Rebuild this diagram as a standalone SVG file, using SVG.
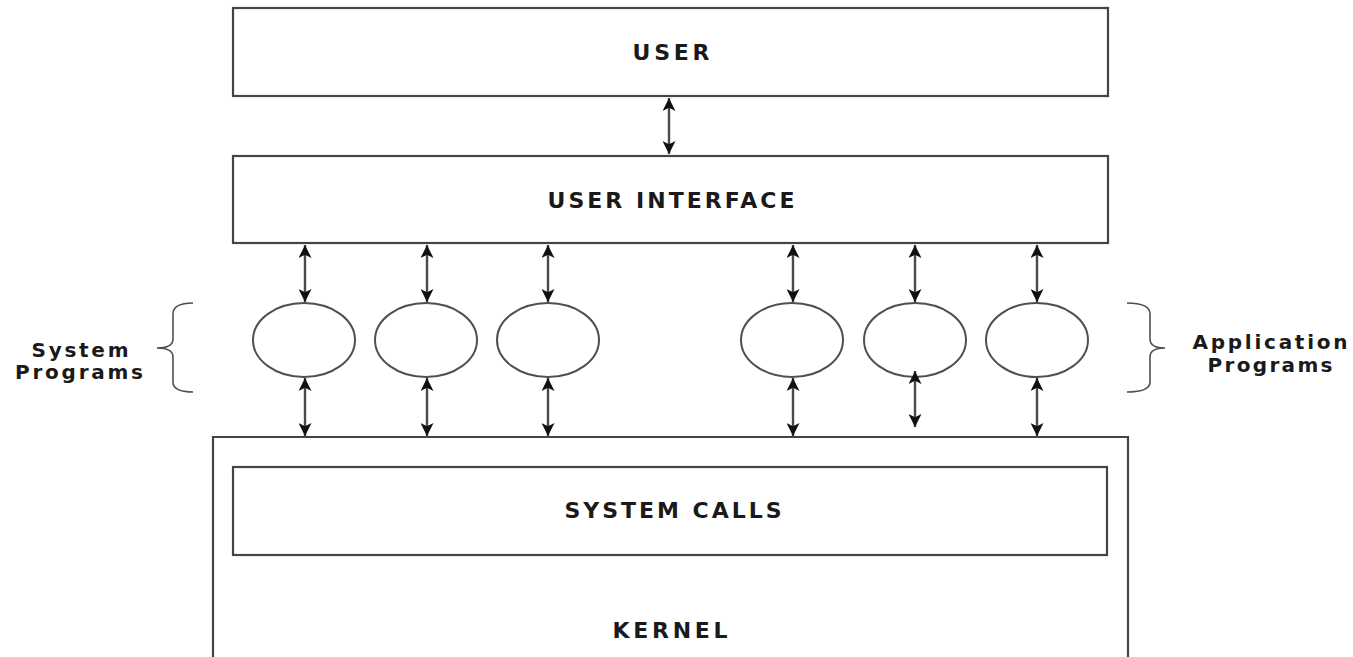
<svg xmlns="http://www.w3.org/2000/svg" width="1353" height="657" viewBox="0 0 1353 657">
  <style>
    .box { fill: #ffffff; stroke: #444444; stroke-width: 2.2; }
    .prog { fill: #ffffff; stroke: #505050; stroke-width: 2; }
    .link { stroke: #4a4a4a; stroke-width: 2.4; fill: none; marker-start: url(#head); marker-end: url(#head); }
    .brace { fill: none; stroke: #505050; stroke-width: 1.6; }
    .lbl { font-family: "DejaVu Sans", "Liberation Sans", sans-serif; font-weight: bold; font-size: 22px; fill: #1a1a1a; text-anchor: middle; }
    .side { font-family: "DejaVu Sans", "Liberation Sans", sans-serif; font-weight: bold; font-size: 20px; fill: #1a1a1a; text-anchor: middle; }
  </style>
  <defs>
    <marker id="head" viewBox="0 0 10 10" refX="10" refY="5" markerWidth="13" markerHeight="13" markerUnits="userSpaceOnUse" orient="auto-start-reverse">
      <path d="M0,0 L10,5 L0,10 L2.5,5 Z" fill="#111111"/>
    </marker>
  </defs>
  <rect width="1353" height="657" fill="#ffffff"/>

  <g id="user">
    <rect class="box" x="233" y="8" width="875" height="88"/>
    <text class="lbl" x="671" y="60" textLength="77" lengthAdjust="spacing">USER</text>
  </g>

  <g id="user-interface">
    <rect class="box" x="233" y="156" width="875" height="87"/>
    <text class="lbl" x="671" y="208" textLength="247" lengthAdjust="spacing">USER INTERFACE</text>
  </g>

  <g id="kernel">
    <path class="box" d="M213,662 V437 H1128 V662"/>
    <text class="lbl" x="670" y="638" textLength="115" lengthAdjust="spacing">KERNEL</text>
  </g>

  <g id="system-calls">
    <rect class="box" x="233" y="467" width="874" height="88"/>
    <text class="lbl" x="673" y="518" textLength="217" lengthAdjust="spacing">SYSTEM CALLS</text>
  </g>

  <g id="system-programs">
    <ellipse class="prog" cx="304" cy="340" rx="51" ry="37"/>
    <ellipse class="prog" cx="426" cy="340" rx="51" ry="37"/>
    <ellipse class="prog" cx="548" cy="340" rx="51" ry="37"/>
    <path class="brace" d="M193,303 Q173,303 173,314 V339 Q173,348 157,348 Q173,348 173,357 V382 Q173,392 193,392"/>
    <text class="side" x="80" y="357" textLength="97" lengthAdjust="spacing">System</text>
    <text class="side" x="79" y="379" textLength="128" lengthAdjust="spacing">Programs</text>
  </g>

  <g id="application-programs">
    <ellipse class="prog" cx="792" cy="340" rx="51" ry="37"/>
    <ellipse class="prog" cx="915" cy="340" rx="51" ry="37"/>
    <ellipse class="prog" cx="1037" cy="340" rx="51" ry="37"/>
    <path class="brace" d="M1127,303 Q1150,303 1150,314 V339 Q1150,348 1165,348 Q1150,348 1150,357 V382 Q1150,392 1127,392"/>
    <text class="side" x="1270" y="349" textLength="155" lengthAdjust="spacing">Application</text>
    <text class="side" x="1270" y="372" textLength="125" lengthAdjust="spacing">Programs</text>
  </g>

  <g id="connectors">
    <line class="link" x1="669" y1="98" x2="669" y2="154"/>

    <line class="link" x1="305" y1="245" x2="305" y2="302"/>
    <line class="link" x1="427" y1="245" x2="427" y2="302"/>
    <line class="link" x1="548" y1="245" x2="548" y2="302"/>
    <line class="link" x1="793" y1="245" x2="793" y2="302"/>
    <line class="link" x1="915" y1="245" x2="915" y2="302"/>
    <line class="link" x1="1037" y1="245" x2="1037" y2="302"/>

    <line class="link" x1="305" y1="378" x2="305" y2="436"/>
    <line class="link" x1="427" y1="378" x2="427" y2="436"/>
    <line class="link" x1="548" y1="378" x2="548" y2="436"/>
    <line class="link" x1="793" y1="378" x2="793" y2="436"/>
    <line class="link" x1="915" y1="371" x2="915" y2="427"/>
    <line class="link" x1="1037" y1="378" x2="1037" y2="436"/>
  </g>
</svg>
